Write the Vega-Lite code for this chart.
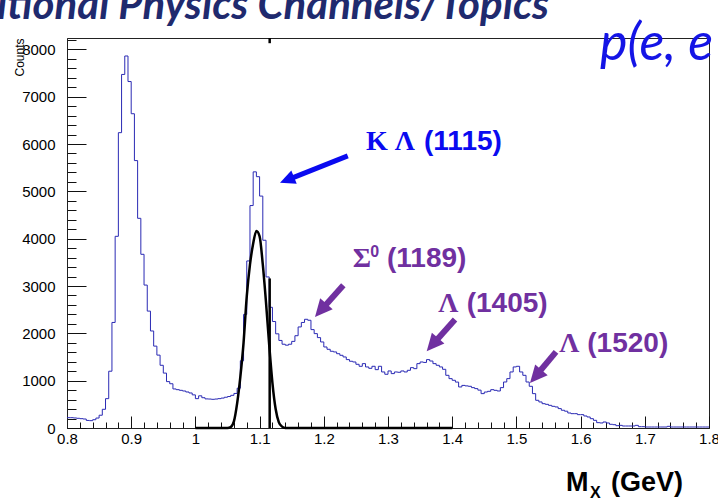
{
  "$schema": "https://vega.github.io/schema/vega-lite/v6.json",
  "width": 642,
  "height": 390,
  "autosize": {"type": "none"},
  "padding": {"left": 67, "top": 38, "right": 9, "bottom": 72},
  "background": "white",
  "config": {
    "view": {"stroke": "#222222", "strokeWidth": 1},
    "axis": {"labelFont": "Liberation Sans", "titleFont": "Liberation Sans", "labelColor": "#000000", "titleColor": "#000000", "tickColor": "#111111", "domainColor": "#222222", "grid": false}
  },
  "datasets": {
    "hist": [
      {"x":0.800,"y":218},{"x":0.805,"y":218},{"x":0.810,"y":212},{"x":0.815,"y":205},{"x":0.820,"y":197},
      {"x":0.825,"y":190},{"x":0.830,"y":160},{"x":0.835,"y":155},{"x":0.840,"y":175},{"x":0.845,"y":210},
      {"x":0.850,"y":270},{"x":0.855,"y":395},{"x":0.860,"y":620},{"x":0.865,"y":1200},{"x":0.870,"y":2230},
      {"x":0.875,"y":4050},{"x":0.880,"y":6240},{"x":0.885,"y":7470},{"x":0.890,"y":7860},{"x":0.895,"y":7320},
      {"x":0.900,"y":6640},{"x":0.905,"y":5650},{"x":0.910,"y":4430},{"x":0.915,"y":3670},{"x":0.920,"y":3020},
      {"x":0.925,"y":2470},{"x":0.930,"y":2050},{"x":0.935,"y":1730},{"x":0.940,"y":1540},{"x":0.945,"y":1325},
      {"x":0.950,"y":1160},{"x":0.955,"y":980},{"x":0.960,"y":935},{"x":0.965,"y":825},{"x":0.970,"y":810},
      {"x":0.975,"y":796},{"x":0.980,"y":782},{"x":0.985,"y":761},{"x":0.990,"y":740},{"x":0.995,"y":700},
      {"x":1.000,"y":620},{"x":1.005,"y":680},{"x":1.010,"y":640},{"x":1.015,"y":615},{"x":1.020,"y":612},
      {"x":1.025,"y":606},{"x":1.030,"y":612},{"x":1.035,"y":620},{"x":1.040,"y":632},{"x":1.045,"y":650},
      {"x":1.050,"y":665},{"x":1.055,"y":690},{"x":1.060,"y":730},{"x":1.065,"y":840},{"x":1.070,"y":1420},
      {"x":1.075,"y":2400},{"x":1.080,"y":3530},{"x":1.085,"y":4700},{"x":1.090,"y":5412},{"x":1.095,"y":5310},
      {"x":1.100,"y":4900},{"x":1.105,"y":3967},{"x":1.110,"y":3192},{"x":1.115,"y":2550},{"x":1.120,"y":2250},
      {"x":1.125,"y":1990},{"x":1.130,"y":1850},{"x":1.135,"y":1770},{"x":1.140,"y":1750},{"x":1.145,"y":1770},
      {"x":1.150,"y":1830},{"x":1.155,"y":1950},{"x":1.160,"y":2135},{"x":1.165,"y":2230},{"x":1.170,"y":2297},
      {"x":1.175,"y":2276},{"x":1.180,"y":2079},{"x":1.185,"y":1994},{"x":1.190,"y":1910},{"x":1.195,"y":1818},
      {"x":1.200,"y":1712},{"x":1.205,"y":1663},{"x":1.210,"y":1621},{"x":1.215,"y":1607},{"x":1.220,"y":1570},
      {"x":1.225,"y":1536},{"x":1.230,"y":1501},{"x":1.235,"y":1445},{"x":1.240,"y":1410},{"x":1.245,"y":1395},
      {"x":1.250,"y":1346},{"x":1.255,"y":1304},{"x":1.260,"y":1360},{"x":1.265,"y":1290},{"x":1.270,"y":1261},
      {"x":1.275,"y":1304},{"x":1.280,"y":1233},{"x":1.285,"y":1304},{"x":1.290,"y":1184},{"x":1.295,"y":1135},
      {"x":1.300,"y":1205},{"x":1.305,"y":1149},{"x":1.310,"y":1184},{"x":1.315,"y":1177},{"x":1.320,"y":1205},
      {"x":1.325,"y":1184},{"x":1.330,"y":1219},{"x":1.335,"y":1275},{"x":1.340,"y":1254},{"x":1.345,"y":1360},
      {"x":1.350,"y":1395},{"x":1.355,"y":1385},{"x":1.360,"y":1445},{"x":1.365,"y":1415},{"x":1.370,"y":1360},
      {"x":1.375,"y":1325},{"x":1.380,"y":1290},{"x":1.385,"y":1240},{"x":1.390,"y":1113},{"x":1.395,"y":1043},
      {"x":1.400,"y":1008},{"x":1.405,"y":970},{"x":1.410,"y":867},{"x":1.415,"y":900},{"x":1.420,"y":890},
      {"x":1.425,"y":881},{"x":1.430,"y":853},{"x":1.435,"y":832},{"x":1.440,"y":800},{"x":1.445,"y":726},
      {"x":1.450,"y":760},{"x":1.455,"y":775},{"x":1.460,"y":810},{"x":1.465,"y":796},{"x":1.470,"y":782},
      {"x":1.475,"y":853},{"x":1.480,"y":972},{"x":1.485,"y":1043},{"x":1.490,"y":1184},{"x":1.495,"y":1290},
      {"x":1.500,"y":1304},{"x":1.505,"y":1184},{"x":1.510,"y":1113},{"x":1.515,"y":972},{"x":1.520,"y":881},
      {"x":1.525,"y":726},{"x":1.530,"y":585},{"x":1.535,"y":550},{"x":1.540,"y":514},{"x":1.545,"y":500},
      {"x":1.550,"y":479},{"x":1.555,"y":458},{"x":1.560,"y":445},{"x":1.565,"y":410},{"x":1.570,"y":375},
      {"x":1.575,"y":355},{"x":1.580,"y":317},{"x":1.585,"y":303},{"x":1.590,"y":303},{"x":1.595,"y":282},
      {"x":1.600,"y":282},{"x":1.605,"y":254},{"x":1.610,"y":233},{"x":1.615,"y":197},{"x":1.620,"y":162},
      {"x":1.625,"y":113},{"x":1.630,"y":106},{"x":1.635,"y":127},{"x":1.640,"y":106},{"x":1.645,"y":78},
      {"x":1.650,"y":70},{"x":1.655,"y":49},{"x":1.660,"y":56},{"x":1.665,"y":42},{"x":1.670,"y":42},
      {"x":1.675,"y":42},{"x":1.680,"y":42},{"x":1.685,"y":56},{"x":1.690,"y":28},{"x":1.695,"y":28},
      {"x":1.700,"y":21},{"x":1.705,"y":21},{"x":1.710,"y":21},{"x":1.715,"y":21},{"x":1.720,"y":21},
      {"x":1.725,"y":21},{"x":1.730,"y":21},{"x":1.735,"y":35},{"x":1.740,"y":21},{"x":1.745,"y":21},
      {"x":1.750,"y":21},{"x":1.755,"y":21},{"x":1.760,"y":21},{"x":1.765,"y":21},{"x":1.770,"y":21},
      {"x":1.775,"y":21},{"x":1.780,"y":21},{"x":1.785,"y":21},{"x":1.790,"y":21},{"x":1.795,"y":21},
      {"x":1.800,"y":21}
    ],
    "fit": [
      {"x":1.000,"y":0},{"x":1.050,"y":0},{"x":1.055,"y":20},{"x":1.060,"y":140},{"x":1.065,"y":520},
      {"x":1.070,"y":1080},{"x":1.075,"y":1800},{"x":1.080,"y":2780},{"x":1.085,"y":3450},{"x":1.090,"y":3900},
      {"x":1.095,"y":4160},{"x":1.100,"y":4050},{"x":1.105,"y":3450},{"x":1.110,"y":2650},{"x":1.115,"y":1750},
      {"x":1.120,"y":950},{"x":1.125,"y":400},{"x":1.130,"y":120},{"x":1.135,"y":30},{"x":1.140,"y":0},
      {"x":1.400,"y":0}
    ],
    "vlines": [
      {"x":1.1157,"y":0,"y2":3160},
      {"x":1.1157,"y":8130,"y2":8240}
    ],
    "shaftBlue": [
      {"x":1.2373,"y":5751,"x2":1.1463,"y2":5258}
    ],
    "headBlue": [
      {"x":1.1318,"y":5180}
    ],
    "shaftPurple": [
      {"x":1.2304,"y":3017,"x2":1.1967,"y2":2505},
      {"x":1.4044,"y":2292,"x2":1.3707,"y2":1780},
      {"x":1.5617,"y":1607,"x2":1.5312,"y2":1114}
    ],
    "headPurple": [
      {"x":1.1863,"y":2347},
      {"x":1.3603,"y":1622},
      {"x":1.5212,"y":951}
    ],
    "greekBlue": [{"x":1.2657,"y":5871,"t":"K Λ"}],
    "numBlue": [{"x":1.3561,"y":5871,"t":"(1115)"}],
    "greekPurple": [
      {"x":1.2450,"y":3404,"t":"Σ"},
      {"x":1.3784,"y":2452,"t":"Λ"},
      {"x":1.5668,"y":1607,"t":"Λ"}
    ],
    "numPurple": [
      {"x":1.2984,"y":3404,"t":"(1189)"},
      {"x":1.4226,"y":2452,"t":"(1405)"},
      {"x":1.6104,"y":1607,"t":"(1520)"}
    ],
    "supPurple": [{"x":1.2725,"y":3620,"t":"0"}],
    "slideTitle": [{"x":0.6910,"y":8641,"t":"itional Physics Channels/Topics"}],
    "reaction": [{"x":1.6302,"y":7774,"t":"p(e, e′K⁺)"}],
    "xMain": [
      {"x":1.5773,"y":-1338,"t":"M"},
      {"x":1.6474,"y":-1338,"t":"(GeV)"}
    ],
    "xSub": [{"x":1.6146,"y":-1486,"t":"X"}]
  },
  "encoding": {
    "x": {
      "field": "x", "type": "quantitative",
      "scale": {"domain": [0.8, 1.8], "nice": false, "zero": false},
      "axis": {
        "title": null,
        "values": [0.8,0.82,0.84,0.86,0.88,0.9,0.92,0.94,0.96,0.98,1,1.02,1.04,1.06,1.08,1.1,1.12,1.14,1.16,1.18,1.2,1.22,1.24,1.26,1.28,1.3,1.32,1.34,1.36,1.38,1.4,1.42,1.44,1.46,1.48,1.5,1.52,1.54,1.56,1.58,1.6,1.62,1.64,1.66,1.68,1.7,1.72,1.74,1.76,1.78,1.8],
        "tickSize": {"condition": {"test": "abs(datum.value*10 - round(datum.value*10)) < 0.001", "value": -12}, "value": -6},
        "labelExpr": "abs(datum.value*10 - round(datum.value*10)) < 0.001 ? format(datum.value, '.1~f') : ''",
        "labelPadding": 15,
        "labelFontSize": 15,
        "labelOverlap": false,
        "labelFlush": false,
        "labelBound": false
      }
    },
    "y": {
      "field": "y", "type": "quantitative",
      "scale": {"domain": [0, 8240], "nice": false, "zero": false},
      "axis": {
        "title": "Counts",
        "titleFontSize": 12,
        "titleFontWeight": "normal",
        "titleAnchor": "end",
        "titleY": 0,
        "titlePadding": -5,
        "values": [0,200,400,600,800,1000,1200,1400,1600,1800,2000,2200,2400,2600,2800,3000,3200,3400,3600,3800,4000,4200,4400,4600,4800,5000,5200,5400,5600,5800,6000,6200,6400,6600,6800,7000,7200,7400,7600,7800,8000,8200],
        "tickSize": {"condition": {"test": "datum.value % 1000 === 0", "value": -19}, "value": -9},
        "labelExpr": "datum.value % 1000 === 0 ? format(datum.value, 'd') : ''",
        "labelPadding": 31,
        "labelFontSize": 15,
        "labelOverlap": false,
        "labelFlush": false,
        "labelBound": false
      }
    }
  },
  "layer": [
    {"data": {"name": "hist"}, "mark": {"type": "line", "interpolate": "step-after", "color": "#2a2ab4", "strokeWidth": 1}, "encoding": {}},
    {"data": {"name": "fit"}, "mark": {"type": "line", "interpolate": "monotone", "color": "#000000", "strokeWidth": 2.5}, "encoding": {}},
    {"data": {"name": "vlines"}, "mark": {"type": "rule", "color": "#000000", "strokeWidth": 2.5}, "encoding": {"y2": {"field": "y2"}}},
    {"data": {"name": "shaftBlue"}, "mark": {"type": "rule", "color": "#0a0af0", "strokeWidth": 5}, "encoding": {"x2": {"field": "x2"}, "y2": {"field": "y2"}}},
    {"data": {"name": "headBlue"}, "mark": {"type": "point", "shape": "M0,0L-1,2.1L1,2.1Z", "filled": true, "color": "#0a0af0", "opacity": 1, "size": 207, "angle": 248}, "encoding": {}},
    {"data": {"name": "shaftPurple"}, "mark": {"type": "rule", "color": "#7030a0", "strokeWidth": 6}, "encoding": {"x2": {"field": "x2"}, "y2": {"field": "y2"}}},
    {"data": {"name": "headPurple"}, "mark": {"type": "point", "shape": "M0,0L-1,2.1L1,2.1Z", "filled": true, "color": "#7030a0", "opacity": 1, "size": 275, "angle": 221}, "encoding": {}},
    {"data": {"name": "greekBlue"}, "mark": {"type": "text", "align": "left", "baseline": "alphabetic", "font": "Liberation Serif", "fontWeight": "bold", "fontSize": 28, "color": "#0a0af0"}, "encoding": {"text": {"field": "t"}}},
    {"data": {"name": "numBlue"}, "mark": {"type": "text", "align": "left", "baseline": "alphabetic", "font": "Liberation Sans", "fontWeight": "bold", "fontSize": 28, "color": "#0a0af0"}, "encoding": {"text": {"field": "t"}}},
    {"data": {"name": "greekPurple"}, "mark": {"type": "text", "align": "left", "baseline": "alphabetic", "font": "Liberation Serif", "fontWeight": "bold", "fontSize": 28, "color": "#7030a0"}, "encoding": {"text": {"field": "t"}}},
    {"data": {"name": "numPurple"}, "mark": {"type": "text", "align": "left", "baseline": "alphabetic", "font": "Liberation Sans", "fontWeight": "bold", "fontSize": 28, "color": "#7030a0"}, "encoding": {"text": {"field": "t"}}},
    {"data": {"name": "supPurple"}, "mark": {"type": "text", "align": "left", "baseline": "alphabetic", "font": "Liberation Sans", "fontWeight": "bold", "fontSize": 16, "color": "#7030a0"}, "encoding": {"text": {"field": "t"}}},
    {"data": {"name": "slideTitle"}, "mark": {"type": "text", "align": "left", "baseline": "alphabetic", "font": "Lato", "fontWeight": "bold", "fontStyle": "italic", "fontSize": 42, "color": "#1f2a6e"}, "encoding": {"text": {"field": "t"}}},
    {"data": {"name": "reaction"}, "mark": {"type": "text", "align": "left", "baseline": "alphabetic", "font": "Lato", "fontStyle": "italic", "fontSize": 52, "color": "#1414e6"}, "encoding": {"text": {"field": "t"}}},
    {"data": {"name": "xMain"}, "mark": {"type": "text", "align": "left", "baseline": "alphabetic", "font": "Liberation Sans", "fontWeight": "bold", "fontSize": 27, "color": "#000000"}, "encoding": {"text": {"field": "t"}}},
    {"data": {"name": "xSub"}, "mark": {"type": "text", "align": "left", "baseline": "alphabetic", "font": "Liberation Sans", "fontWeight": "bold", "fontSize": 16, "color": "#000000"}, "encoding": {"text": {"field": "t"}}}
  ]
}
